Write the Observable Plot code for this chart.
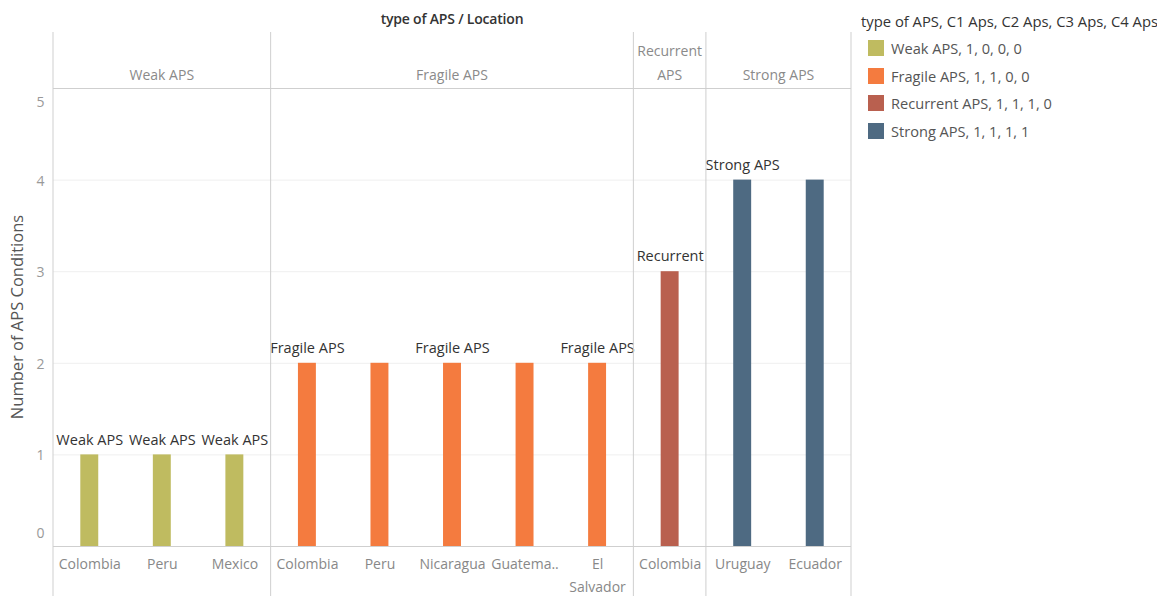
<!DOCTYPE html>
<html>
<head>
<meta charset="utf-8">
<script src="https://cdn.jsdelivr.net/npm/d3@7"></script>
<script src="https://cdn.jsdelivr.net/npm/@observablehq/plot@0.6"></script>
<style>
  html, body { margin: 0; padding: 0; background: #fff; }
  body { font-family: "Open Sans", Lato, sans-serif; }
  #wrap { position: relative; width: 1157px; height: 596px; overflow: hidden; }
  #legend { position: absolute; left: 861px; top: 11px; font-size: 14.6px; color: #555; }
  #legend .title { color: #333; margin-bottom: 3px; white-space: nowrap; font-size: 14.8px; }
  #legend .item { display: flex; align-items: center; height: 27.7px; padding-left: 7px; }
  #legend .sw { width: 16px; height: 16px; margin-right: 7px; }
</style>
</head>
<body>
<div id="wrap"></div>
<script>
// APS type of each location group
const types = ["Weak APS", "Fragile APS", "Recurrent APS", "Strong APS"];
const typeColors = ["#bfbb60", "#f47b3f", "#b9604f", "#4e6a82"];
const groupHeaders = ["Weak APS", "Fragile APS", "Recurrent\nAPS", "Strong APS"];
const legendLabels = ["Weak APS, 1, 0, 0, 0", "Fragile APS, 1, 1, 0, 0", "Recurrent APS, 1, 1, 1, 0", "Strong APS, 1, 1, 1, 1"];
const legendTitle = "type of APS, C1 Aps, C2 Aps, C3 Aps, C4 Aps";

// One entry per bar
const barType = ["Weak APS", "Weak APS", "Weak APS", "Fragile APS", "Fragile APS", "Fragile APS", "Fragile APS", "Fragile APS", "Recurrent APS", "Strong APS", "Strong APS"];
const countries = ["Colombia", "Peru", "Mexico", "Colombia", "Peru", "Nicaragua", "Guatemala", "El Salvador", "Colombia", "Uruguay", "Ecuador"];
const tickLabels = ["Colombia", "Peru", "Mexico", "Colombia", "Peru", "Nicaragua", "Guatema..", "El\nSalvador", "Colombia", "Uruguay", "Ecuador"];
const conditions = [1, 1, 1, 2, 2, 2, 2, 2, 3, 4, 4];
const barLabels = ["Weak APS", "Weak APS", "Weak APS", "Fragile APS", "", "Fragile APS", "", "Fragile APS", "Recurrent", "Strong APS", ""];

const yTicks = [0, 1, 2, 3, 4, 5];

const rows = countries.map((c, i) => ({
  key: barType[i] + "|" + c,
  type: barType[i],
  country: c,
  tick: tickLabels[i],
  value: conditions[i],
  label: barLabels[i]
}));

const W = 1157, H = 596;
const mLeft = 53, mRight = 306, mTop = 88, mBottom = 50;
const FONT = "'Open Sans', Lato, sans-serif";

const plot = Plot.plot({
  width: W,
  height: H,
  marginLeft: mLeft,
  marginRight: mRight,
  marginTop: mTop,
  marginBottom: mBottom,
  style: { fontFamily: FONT, fontSize: "14px", background: "#fff", overflow: "visible" },
  x: { type: "band", domain: rows.map(d => d.key), padding: 0, round: false, axis: null },
  y: { domain: [0, 5], axis: null },
  color: { domain: types, range: typeColors },
  marks: [
    Plot.ruleY([1, 2, 3, 4], { stroke: "#efefef" }),
    Plot.ruleY([0, 5], { stroke: "#cfcfcf" }),
    Plot.barY(rows, { x: "key", y: "value", fill: "type", insetLeft: 27.3, insetRight: 27.3 }),
    Plot.text(rows, { x: "key", y: "value", text: "label", dy: -15, fill: "#333", fontSize: 14.5 }),
    Plot.text(rows, { x: "key", text: "tick", frameAnchor: "bottom", lineAnchor: "top", dy: 6, lineHeight: 1.64, fill: "#888", fontSize: 14 }),
    // value axis labels, nudged inward at the ends
    Plot.text(yTicks.filter(v => v > 0 && v < 5), { y: d => d, text: d => String(d), frameAnchor: "left", textAnchor: "end", dx: -9, dy: 1, fill: "#999", fontSize: 14 }),
    Plot.text([0], { y: d => d, text: d => String(d), frameAnchor: "left", textAnchor: "end", dx: -9, dy: -13, fill: "#999", fontSize: 14 }),
    Plot.text([5], { y: d => d, text: d => String(d), frameAnchor: "left", textAnchor: "end", dx: -9, dy: 14, fill: "#999", fontSize: 14 })
  ]
});

// Group dividers, headers and titles placed with the band scale
const xs = plot.scale("x");
const bw = xs.bandwidth;
const svg = d3.select(plot);
const deco = svg.append("g").attr("font-family", FONT).attr("font-size", 14);

const edges = [];
types.forEach((t, gi) => {
  const keys = rows.filter(d => d.type === t).map(d => d.key);
  const x0 = xs.apply(keys[0]);
  const x1 = xs.apply(keys[keys.length - 1]) + bw;
  edges.push(x0);
  if (gi === types.length - 1) edges.push(x1);
  const lines = groupHeaders[gi].split("\n");
  const tx = deco.append("text")
    .attr("x", (x0 + x1) / 2)
    .attr("text-anchor", "middle")
    .attr("fill", "#8a8a8a");
  lines.forEach((ln, li) => {
    tx.append("tspan")
      .attr("x", (x0 + x1) / 2)
      .attr("y", 75 - 24 * (lines.length - 1 - li))
      .attr("dy", "0.35em")
      .text(ln);
  });
});

deco.selectAll("line.div").data(edges).join("line")
  .attr("x1", d => d).attr("x2", d => d)
  .attr("y1", 32).attr("y2", H)
  .attr("stroke", "#cfcfcf");

deco.append("text")
  .attr("x", (mLeft + W - mRight) / 2)
  .attr("y", 19)
  .attr("dy", "0.35em")
  .attr("text-anchor", "middle")
  .attr("fill", "#333")
  .attr("font-weight", 600)
  .attr("letter-spacing", -0.2)
  .text("type of APS / Location");

deco.append("text")
  .attr("transform", `translate(17,${(mTop + H - mBottom) / 2}) rotate(-90)`)
  .attr("dy", "0.35em")
  .attr("text-anchor", "middle")
  .attr("fill", "#555")
  .attr("font-size", 16.5)
  .text("Number of APS Conditions");

const wrap = document.getElementById("wrap");
wrap.appendChild(plot);

// Colour legend
const legend = d3.select(wrap).append("div").attr("id", "legend");
legend.append("div").attr("class", "title").text(legendTitle);
const items = legend.selectAll("div.item").data(types).join("div").attr("class", "item");
items.append("div").attr("class", "sw").style("background", (d, i) => typeColors[i]);
items.append("span").text((d, i) => legendLabels[i]);
</script>
</body>
</html>
